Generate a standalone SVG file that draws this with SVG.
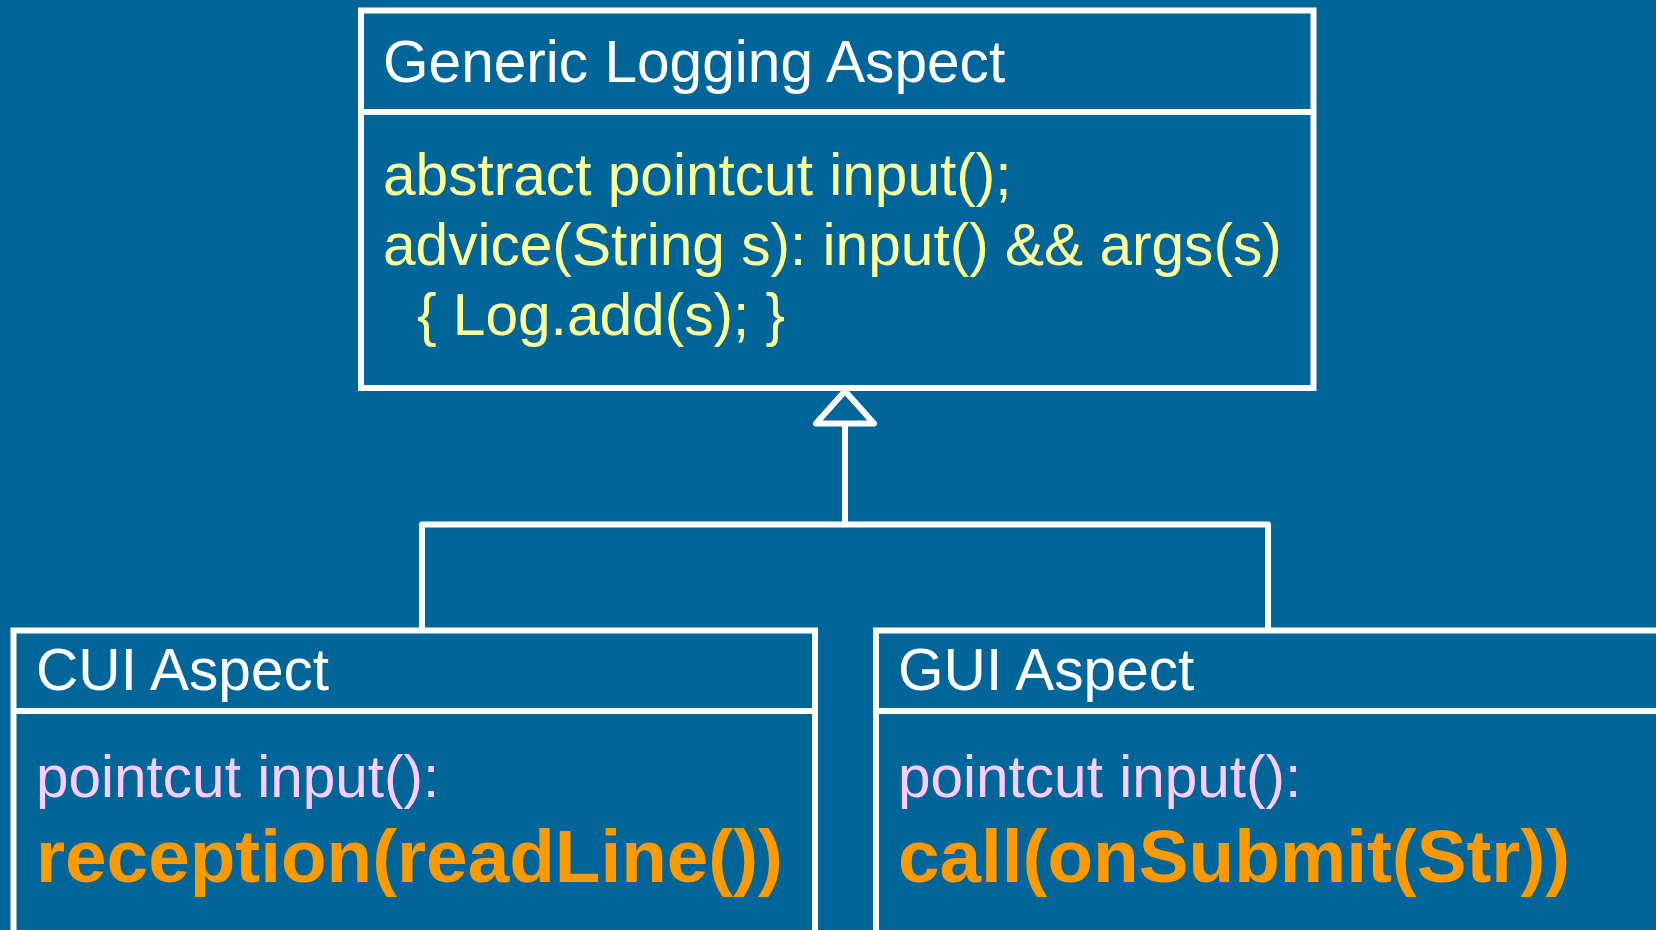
<svg xmlns="http://www.w3.org/2000/svg" width="1656" height="930" viewBox="0 0 1656 930">
  <style>
    .box { fill: none; stroke: #ffffff; stroke-width: 6; }
    .rule { stroke: #ffffff; stroke-width: 6; }
    .wire { fill: none; stroke: #ffffff; stroke-width: 6; stroke-linejoin: round; }
    text { font-family: "Liberation Sans", Arial, sans-serif; font-size: 58.6px; }
    .title { fill: #ffffff; }
    .code { fill: #ffff99; }
    .pc { fill: #ffccff; font-size: 58.5px; }
    .expr { fill: #ff9900; font-weight: bold; font-size: 74.7px; }
  </style>

  <rect x="0" y="0" width="1656" height="930" fill="#006699"/>

  <!-- generalization connectors -->
  <g id="connectors">
    <polyline class="wire" points="422,631 422,524.5 1268,524.5 1268,631"/>
    <line class="wire" x1="845" y1="524.5" x2="845" y2="423.5"/>
    <polygon class="wire" points="845,391 874,423.5 816,423.5"/>
  </g>

  <!-- abstract aspect -->
  <g id="generic-logging-aspect">
    <rect class="box" x="361" y="10.5" width="952.5" height="377.5"/>
    <line class="rule" x1="361" y1="112" x2="1313.5" y2="112"/>
    <text class="title" x="383" y="81.5">Generic Logging Aspect</text>
    <text class="code" x="383" y="195">abstract pointcut input();</text>
    <text class="code" x="383" y="264.5">advice(String s): input() &amp;&amp; args(s)</text>
    <text class="code" x="417" y="334.5">{ Log.add(s); }</text>
  </g>

  <!-- console sub-aspect -->
  <g id="cui-aspect">
    <rect class="box" x="13.5" y="630.5" width="801.5" height="340"/>
    <line class="rule" x1="13.5" y1="711" x2="815" y2="711"/>
    <text class="title" x="36" y="690">CUI Aspect</text>
    <text class="pc" x="36" y="797">pointcut input():</text>
    <text class="expr" x="36" y="882">reception(readLine())</text>
  </g>

  <!-- GUI sub-aspect -->
  <g id="gui-aspect">
    <rect class="box" x="876" y="630.5" width="820" height="340"/>
    <line class="rule" x1="876" y1="711" x2="1696" y2="711"/>
    <text class="title" x="898" y="690">GUI Aspect</text>
    <text class="pc" x="898" y="797">pointcut input():</text>
    <text class="expr" x="898" y="882">call(onSubmit(Str))</text>
  </g>
</svg>
